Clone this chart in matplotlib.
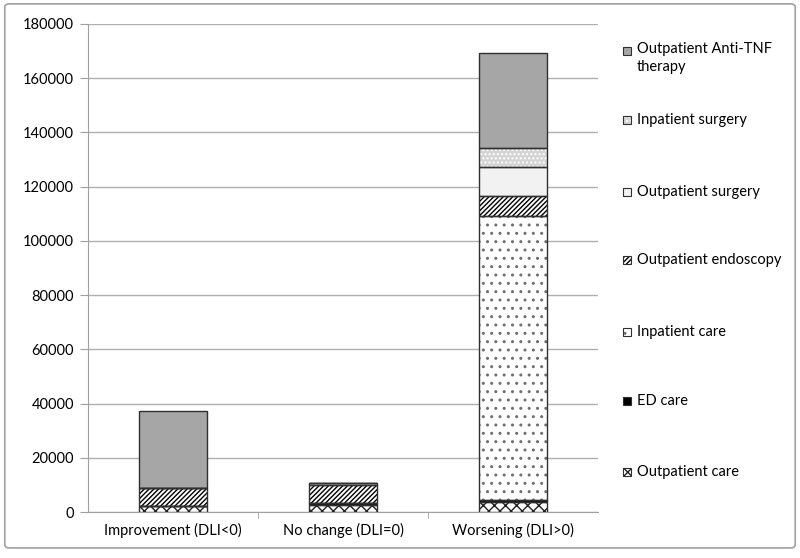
import matplotlib.pyplot as plt
import matplotlib.patches as mpatches
import numpy as np

plt.rcParams["font.family"] = ["Lato", "DejaVu Sans"]
plt.rcParams["hatch.linewidth"] = 1.0

categories = ["Improvement (DLI<0)", "No change (DLI=0)", "Worsening (DLI>0)"]

# stacked components, bottom to top
outpatient_care = [2200, 2770, 3800]
ed_care = [0, 400, 700]
inpatient_care = [0, 0, 104700]
outpatient_endoscopy = [6650, 6790, 7500]
outpatient_surgery = [0, 630, 10450]
inpatient_surgery = [0, 0, 7150]
anti_tnf = [28420, 0, 35050]

series = [
    ("Outpatient care", outpatient_care),
    ("ED care", ed_care),
    ("Inpatient care", inpatient_care),
    ("Outpatient endoscopy", outpatient_endoscopy),
    ("Outpatient surgery", outpatient_surgery),
    ("Inpatient surgery", inpatient_surgery),
    ("Outpatient Anti-TNF\ntherapy", anti_tnf),
]

# facecolor, hatch, hatch colour
styles = {
    "Outpatient care": ("white", "xxx", "#202020"),
    "ED care": ("black", None, "black"),
    "Inpatient care": ("white", "..", "#707070"),
    "Outpatient endoscopy": ("white", "///////", "black"),
    "Outpatient surgery": ("#f2f2f2", None, "#f2f2f2"),
    "Inpatient surgery": ("#d4d4d4", "....", "white"),
    "Outpatient Anti-TNF\ntherapy": ("#a6a6a6", None, "#a6a6a6"),
}

fig = plt.figure(figsize=(8, 5.58), dpi=100)
ax = fig.add_axes([0.11, 0.0824, 0.6375, 0.8746])

x = np.arange(len(categories))
bottom = np.zeros(len(categories))
w = 0.405
for name, vals in series:
    vals = np.array(vals, dtype=float)
    fc, hatch, hc = styles[name]
    ax.bar(x, vals, w, bottom=bottom, color=fc, edgecolor=hc, hatch=hatch, linewidth=0, zorder=3)
    ax.bar(x, vals, w, bottom=bottom, fill=False, edgecolor="#303030", linewidth=1.0, zorder=4)
    bottom += vals

ax.set_xlim(-0.5, 2.5)
ax.set_ylim(0, 180000)
ax.set_yticks(range(0, 180001, 20000))
ax.set_yticklabels([str(v) for v in range(0, 180001, 20000)], fontsize=10.5)
ax.yaxis.grid(True, color="#b0b0b0", linewidth=1.0, zorder=0)
ax.set_axisbelow(True)

ax.set_xticks(x)
ax.set_xticklabels(categories, fontsize=10.5)
ax.tick_params(axis="x", length=0, pad=8)
ax.set_xticks([0.5, 1.5], minor=True)
ax.tick_params(axis="x", which="minor", length=4, color="#a0a0a0")
ax.tick_params(axis="y", length=6, color="#a0a0a0", pad=4)

for side in ["top", "right"]:
    ax.spines[side].set_visible(False)
ax.spines["left"].set_color("#a0a0a0")
ax.spines["bottom"].set_color("#a0a0a0")

# legend drawn on the right, top entry first
legend_y = [51, 120, 192, 260, 332, 401, 472]
px, ps, ph = 623 / 800, 8 / 800, 8 / 558
for (name, vals), ly in zip(reversed(series), legend_y):
    fc, hatch, hc = styles[name]
    yf = 1 - ly / 558
    fig.patches.append(mpatches.Rectangle((px, yf - ph / 2), ps, ph, transform=fig.transFigure,
                                          facecolor=fc, edgecolor=hc, hatch=hatch, linewidth=0))
    fig.patches.append(mpatches.Rectangle((px, yf - ph / 2), ps, ph, transform=fig.transFigure,
                                          fill=False, edgecolor="#303030", linewidth=0.8))
    if "\n" in name:
        fig.text(637 / 800, yf + 9 / 558, name, fontsize=10.5, va="top", ha="left", linespacing=1.4)
    else:
        fig.text(637 / 800, yf, name, fontsize=10.5, va="center", ha="left")

# outer frame
fig.patches.append(mpatches.FancyBboxPatch((0.006, 0.018), 0.988, 0.975,
                                           boxstyle="round,pad=0,rounding_size=0.006",
                                           transform=fig.transFigure, fill=False,
                                           edgecolor="#a0a0a0", linewidth=1.2))

plt.savefig("out.png", dpi=100)
